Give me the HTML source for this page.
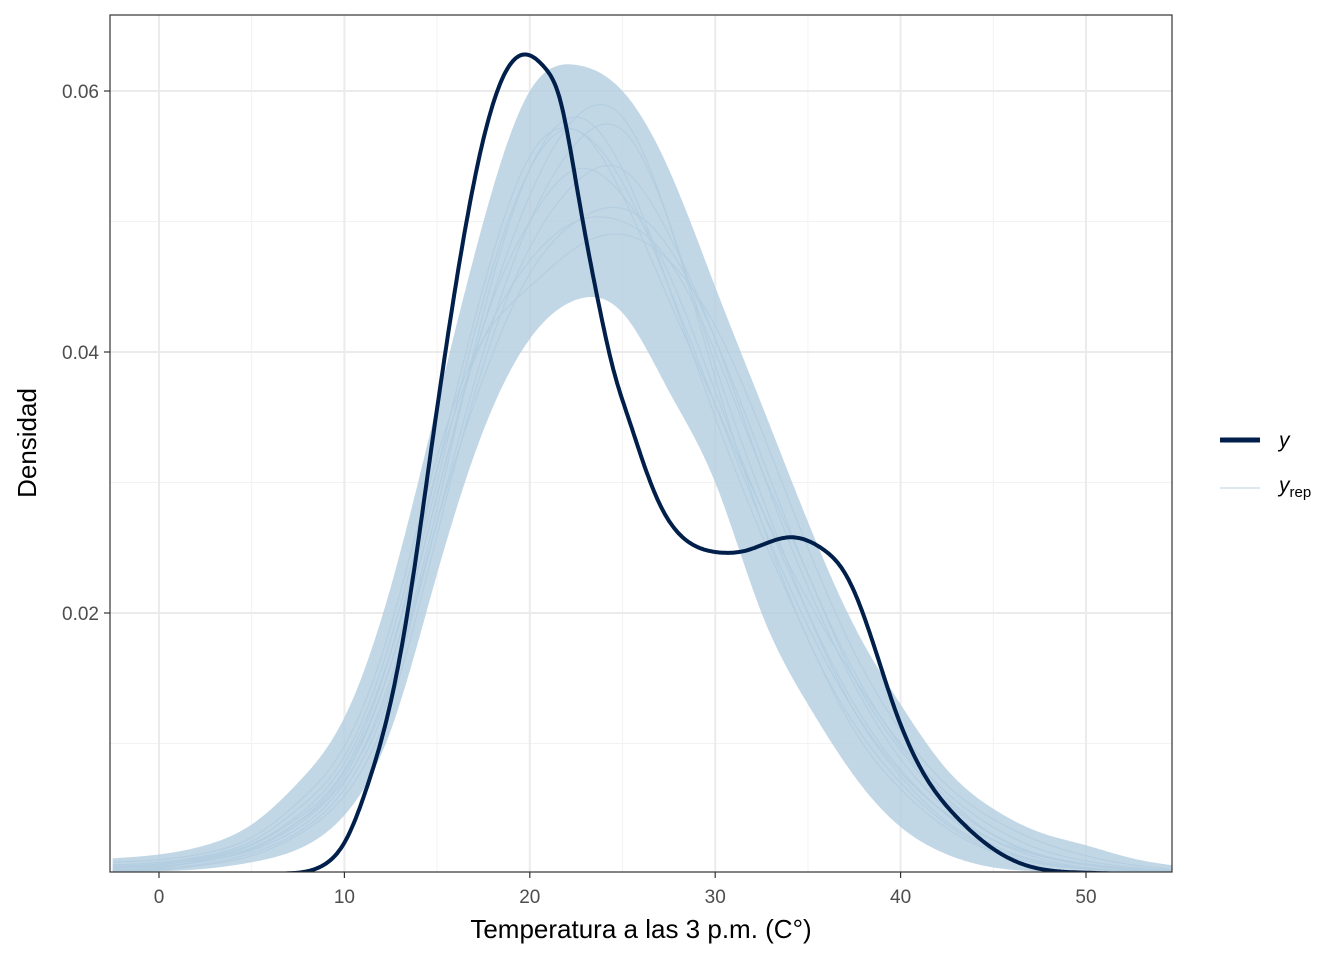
<!DOCTYPE html>
<html><head><meta charset="utf-8"><style>
body{margin:0;background:#fff}
svg{display:block;font-family:"Liberation Sans",sans-serif}
</style></head><body>
<svg id="chart" width="1344" height="960">
<rect x="0" y="0" width="1344" height="960" fill="#fff"/>
<g id="grid"></g>
<g id="reps"></g>
<g id="main"></g>
<rect x="110" y="15" width="1062" height="857" fill="none" stroke="#333" stroke-width="1.2"/>
<g id="axes"></g>
<text x="641" y="938" text-anchor="middle" font-size="26" fill="#000">Temperatura a las 3 p.m. (C°)</text>
<text x="36" y="443" text-anchor="middle" font-size="26" fill="#000" transform="rotate(-90 36 443)">Densidad</text>
<g>
<line x1="1220" y1="440" x2="1260" y2="440" stroke="#011f4b" stroke-width="5"/>
<text x="1279" y="447" font-size="21" font-style="italic">y</text>
<line x1="1220" y1="488" x2="1260" y2="488" stroke="#d1e1ec" stroke-width="1.5"/>
<text x="1279" y="492" font-size="21" font-style="italic">y<tspan font-style="normal" font-size="15" dy="5">rep</tspan></text>
</g>
</svg>
<script>
const xGrid=[-2.5,0,2.5,5,7.5,10,12.5,15,17.5,20,22.5,25,27.5,30,32.5,35,37.5,40,42.5,45,47.5,50,52.5,55];
const yObsX=[-3,0,5,6.5,7.5,9,10,11.25,12.5,13.4,14.6,15.5,17.3,18.6,19.7,20.8,21.6,22.7,23.6,24.5,25.4,26.3,27.2,28.1,29.9,31.7,34,35.8,37.1,38.4,39.7,41.2,43,46,47.5,50,52.5,55];
const yObs=[0,0,0,0.00003,0.0001,0.0008,0.0024,0.0068,0.0132,0.020,0.0317,0.0405,0.0551,0.0612,0.0628,0.0618,0.0595,0.0513,0.0445,0.0387,0.0346,0.0308,0.0278,0.026,0.0247,0.0248,0.0258,0.0249,0.0228,0.0182,0.0126,0.0078,0.0044,0.0011,0.0004,0.0001,0,0];
const repLow=[0.0001,0.0002,0.0004,0.0009,0.0019,0.0045,0.011,0.023,0.034,0.041,0.044,0.043,0.037,0.030,0.020,0.013,0.0075,0.0036,0.0015,0.0005,0.0002,0.0001,0,0];
const repHigh=[0.0012,0.0015,0.0022,0.0038,0.007,0.012,0.022,0.036,0.050,0.060,0.062,0.060,0.054,0.045,0.036,0.027,0.019,0.013,0.008,0.005,0.0032,0.0022,0.0012,0.0006];
const reps=[
[0.0005,0.0007,0.0012,0.002,0.004,0.0075,0.016,0.029,0.042,0.050,0.054,0.052,0.046,0.037,0.028,0.020,0.013,0.008,0.0045,0.0022,0.001,0.0005,0.0002,0.0001],
[0.0003,0.0005,0.001,0.0018,0.0035,0.007,0.015,0.028,0.043,0.054,0.058,0.054,0.045,0.035,0.026,0.018,0.011,0.0065,0.0035,0.0017,0.0008,0.0004,0.0002,0.0001],
[0.0007,0.0009,0.0014,0.0025,0.005,0.009,0.018,0.031,0.041,0.047,0.050,0.050,0.047,0.040,0.031,0.023,0.015,0.0095,0.0055,0.003,0.0015,0.0008,0.0004,0.0002],
[0.0002,0.0004,0.0008,0.0016,0.0032,0.0065,0.014,0.027,0.040,0.050,0.056,0.057,0.050,0.039,0.029,0.020,0.0125,0.0075,0.004,0.002,0.0009,0.0004,0.0002,0.0001],
[0.0006,0.0008,0.0013,0.0023,0.0045,0.0085,0.017,0.030,0.044,0.054,0.057,0.052,0.044,0.036,0.028,0.021,0.015,0.010,0.0062,0.0036,0.0019,0.001,0.0005,0.0002],
[0.0004,0.0006,0.001,0.0019,0.0038,0.0072,0.0145,0.027,0.038,0.046,0.050,0.051,0.048,0.041,0.032,0.023,0.0155,0.0098,0.0058,0.003,0.0014,0.0007,0.0003,0.0001],
[0.0003,0.0005,0.0011,0.002,0.004,0.0078,0.016,0.029,0.042,0.052,0.058,0.058,0.050,0.038,0.027,0.018,0.0115,0.007,0.0038,0.0018,0.0008,0.0004,0.0002,0.0001],
[0.0009,0.0011,0.0016,0.0028,0.0055,0.0098,0.019,0.032,0.041,0.045,0.048,0.049,0.047,0.042,0.034,0.025,0.017,0.011,0.0068,0.0042,0.0025,0.0014,0.0007,0.0003],
[0.0002,0.0003,0.0007,0.0014,0.003,0.006,0.013,0.026,0.039,0.048,0.053,0.054,0.049,0.041,0.031,0.022,0.0145,0.0088,0.005,0.0026,0.0012,0.0005,0.0002,0.0001],
[0.0005,0.0007,0.0012,0.0022,0.0043,0.008,0.017,0.031,0.045,0.055,0.057,0.053,0.045,0.036,0.027,0.019,0.0125,0.0078,0.0046,0.0026,0.0014,0.0007,0.0003,0.0001]
];
const xTicks=[0,10,20,30,40,50];
const yTicks=[0.02,0.04,0.06];
const xMinor=[5,15,25,35,45];
const yMinor=[0.01,0.03,0.05];
const NS='http://www.w3.org/2000/svg';
const X=v=>159+(v-0)*18.54;
const Y=v=>874-v*13050;
function mk(tag,attrs,parent){const e=document.createElementNS(NS,tag);for(const k in attrs)e.setAttribute(k,attrs[k]);parent.appendChild(e);return e;}
function curvePts(xs,ys){const n=xs.length,h=[],M=new Array(n).fill(0);
for(let i=0;i<n-1;i++)h[i]=xs[i+1]-xs[i];
const A=[],B=[],C=[],D=[];
for(let i=1;i<n-1;i++){A.push(h[i-1]);B.push(2*(h[i-1]+h[i]));C.push(h[i]);D.push(6*((ys[i+1]-ys[i])/h[i]-(ys[i]-ys[i-1])/h[i-1]));}
const m=B.length;for(let i=1;i<m;i++){const w=A[i]/B[i-1];B[i]-=w*C[i-1];D[i]-=w*D[i-1];}
const sol=new Array(m);sol[m-1]=D[m-1]/B[m-1];for(let i=m-2;i>=0;i--)sol[i]=(D[i]-C[i]*sol[i+1])/B[i];
for(let i=0;i<m;i++)M[i+1]=sol[i];
const pts=[];
for(let i=0;i<n-1;i++){const steps=Math.max(4,Math.ceil(h[i]*18.54/2));
for(let s=0;s<steps;s++){const t=s/steps*h[i],u=h[i]-t;
let y=M[i]*u*u*u/(6*h[i])+M[i+1]*t*t*t/(6*h[i])+(ys[i]/h[i]-M[i]*h[i]/6)*u+(ys[i+1]/h[i]-M[i+1]*h[i]/6)*t;
if(y<0)y=0;pts.push([X(xs[i]+t),Y(y)]);}}
pts.push([X(xs[n-1]),Y(ys[n-1])]);return pts;}
function pathOf(pts){return 'M'+pts.map(p=>p[0].toFixed(1)+','+p[1].toFixed(1)).join('L');}
const grid=document.getElementById('grid'),axes=document.getElementById('axes'),repsG=document.getElementById('reps'),mainG=document.getElementById('main');
xMinor.forEach(v=>{const l=mk('line',{x1:X(v),x2:X(v),y1:15,y2:872,stroke:'#f2f2f2','stroke-width':1},grid);

});
yMinor.forEach(v=>{const l=mk('line',{x1:110,x2:1172,y1:Y(v),y2:Y(v),stroke:'#f2f2f2','stroke-width':1},grid);

});
xTicks.forEach(v=>{const l=mk('line',{x1:X(v),x2:X(v),y1:15,y2:872,stroke:'#ebebeb','stroke-width':2},grid);


const t=mk('line',{x1:X(v),x2:X(v),y1:872,y2:878,stroke:'#333','stroke-width':1.2},axes);


const tx=mk('text',{x:X(v),y:903,'text-anchor':'middle','font-size':19,fill:'#4d4d4d'},axes);tx.textContent=v;

});
yTicks.forEach(v=>{const l=mk('line',{x1:110,x2:1172,y1:Y(v),y2:Y(v),stroke:'#ebebeb','stroke-width':2},grid);


const t=mk('line',{x1:104,x2:110,y1:Y(v),y2:Y(v),stroke:'#333','stroke-width':1.2},axes);


const tx=mk('text',{x:99,y:Y(v)+7,'text-anchor':'end','font-size':19,fill:'#4d4d4d'},axes);tx.textContent=v.toFixed(2);

});
const clip=mk('clipPath',{id:'pc'},document.getElementById('chart'));mk('rect',{x:110,y:15,width:1062,height:857},clip);
repsG.setAttribute('clip-path','url(#pc)');mainG.setAttribute('clip-path','url(#pc)');
const lowP=curvePts(xGrid,repLow),highP=curvePts(xGrid,repHigh).reverse();
const band=mk('path',{d:pathOf(lowP.concat(highP))+'Z',fill:'#b3cde0',opacity:0.8},repsG);


reps.forEach(r=>{const p=mk('path',{d:pathOf(curvePts(xGrid,r)),fill:'none',stroke:'#b3cde0','stroke-width':1.2,opacity:0.9},repsG);

});
const m=mk('path',{d:pathOf(curvePts(yObsX,yObs)),fill:'none',stroke:'#011f4b','stroke-width':4,'stroke-linejoin':'round'},mainG);


</script>
</body></html>
